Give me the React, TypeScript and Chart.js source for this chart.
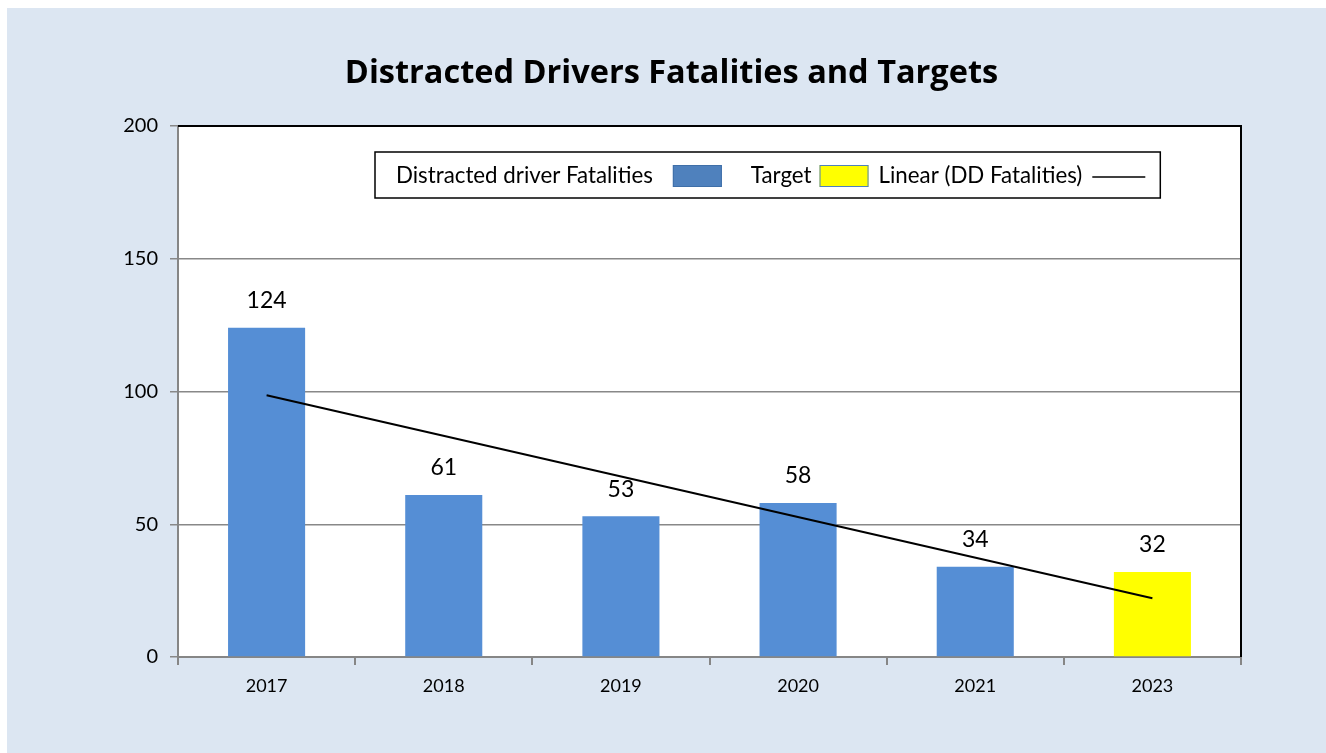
import React, { useEffect, useRef } from "react";
import { Chart, registerables } from "chart.js";

Chart.register(...registerables);

const years = ["2017", "2018", "2019", "2020", "2021", "2023"];
const fatalities = [124, 61, 53, 58, 34, null];
const target = [null, null, null, null, null, 32];
// trend line endpoints (2017 and 2023)
const trend = [98.6, null, null, null, null, 22.1];
const yTicks = [0, 50, 100, 150, 200];

const TITLE = "Distracted Drivers Fatalities and Targets";
const FONT = "Lato, 'Open Sans', sans-serif";
const TITLE_FONT = "'Open Sans', Lato, sans-serif";
const BAR_BLUE = "#558ED5";
const LEGEND_BLUE = "#4F81BD";
const YELLOW = "#FFFF00";

const plotBackground = {
  id: "plotBackground",
  beforeDraw(chart: any) {
    const { ctx, chartArea } = chart;
    ctx.save();
    ctx.fillStyle = "#FFFFFF";
    ctx.fillRect(chartArea.left, chartArea.top, chartArea.right - chartArea.left, chartArea.bottom - chartArea.top);
    ctx.restore();
  },
};

const frameAndLabels = {
  id: "frameAndLabels",
  afterDatasetsDraw(chart: any) {
    const { ctx, chartArea } = chart;
    ctx.save();
    // title centred over the whole panel
    ctx.fillStyle = "#000";
    ctx.font = `bold 32.5px ${TITLE_FONT}`;
    ctx.textAlign = "center";
    ctx.textBaseline = "middle";
    ctx.fillText(TITLE, chart.width / 2 + 5, 66);
    // top and right black border
    ctx.strokeStyle = "#000";
    ctx.lineWidth = 2;
    ctx.beginPath();
    ctx.moveTo(chartArea.left, chartArea.top);
    ctx.lineTo(chartArea.right, chartArea.top);
    ctx.lineTo(chartArea.right, chartArea.bottom);
    ctx.stroke();
    // data labels
    ctx.fillStyle = "#000";
    ctx.font = `23px ${FONT}`;
    ctx.textAlign = "center";
    ctx.textBaseline = "middle";
    [0, 1].forEach((di) => {
      const meta = chart.getDatasetMeta(di);
      const data = chart.data.datasets[di].data;
      meta.data.forEach((el: any, i: number) => {
        const v = data[i];
        if (v === null || v === undefined) return;
        ctx.fillText(String(v), el.x, el.y - 27);
      });
    });
    // legend
    const lx = chartArea.left + 197;
    const ly = chartArea.top + 26;
    const lh = 46;
    ctx.font = `22.3px ${FONT}`;
    ctx.textAlign = "left";
    const items = [
      { label: "Distracted driver Fatalities", kind: "box", color: LEGEND_BLUE, border: "#3F6FA8" },
      { label: "Target", kind: "box", color: YELLOW, border: "#4F81BD" },
      { label: "Linear (DD Fatalities)", kind: "line", color: "#000", border: "#000" },
    ];
    let x = lx + 21;
    const cy = ly + lh / 2 + 1;
    const parts: any[] = [];
    items.forEach((it, idx) => {
      const w = ctx.measureText(it.label).width;
      parts.push({ it, x, w });
      x += w + (idx === 0 ? 20 : idx === 1 ? 8 : 10);
      const sw = it.kind === "box" ? 49 : 53;
      parts[parts.length - 1].sx = x;
      parts[parts.length - 1].sw = sw;
      x += sw + (idx === 0 ? 29 : 10);
    });
    const lw = x - 10 + 15 - lx;
    ctx.fillStyle = "#fff";
    ctx.fillRect(lx, ly, lw, lh);
    ctx.strokeStyle = "#000";
    ctx.lineWidth = 1.5;
    ctx.strokeRect(lx, ly, lw, lh);
    parts.forEach((p) => {
      ctx.fillStyle = "#000";
      ctx.fillText(p.it.label, p.x, cy);
      if (p.it.kind === "box") {
        ctx.fillStyle = p.it.color;
        ctx.fillRect(p.sx, cy - 11, p.sw, 22);
        ctx.strokeStyle = p.it.border;
        ctx.lineWidth = 1;
        ctx.strokeRect(p.sx + 0.5, cy - 10.5, p.sw - 1, 21);
      } else {
        ctx.strokeStyle = "#000";
        ctx.lineWidth = 1.5;
        ctx.beginPath();
        ctx.moveTo(p.sx, cy + 1);
        ctx.lineTo(p.sx + p.sw, cy + 1);
        ctx.stroke();
      }
    });
    ctx.restore();
  },
};

export default function App() {
  const ref = useRef<HTMLCanvasElement | null>(null);
  useEffect(() => {
    if (!ref.current) return;
    const chart = new Chart(ref.current, {
      type: "bar",
      data: {
        labels: years,
        datasets: [
          {
            label: "Distracted driver Fatalities",
            data: fatalities as any,
            backgroundColor: BAR_BLUE,
            barPercentage: 0.435,
            categoryPercentage: 1,
            order: 2,
          },
          {
            label: "Target",
            data: target as any,
            backgroundColor: YELLOW,
            barPercentage: 0.435,
            categoryPercentage: 1,
            order: 2,
          },
          {
            type: "line",
            label: "Linear (DD Fatalities)",
            data: trend as any,
            borderColor: "#000",
            borderWidth: 2,
            pointRadius: 0,
            spanGaps: true,
            order: 1,
          } as any,
        ],
      },
      options: {
        animation: false,
        responsive: true,
        maintainAspectRatio: false,
        layout: { padding: { left: 0, right: 85, top: 118, bottom: 0 } },
        plugins: {
          legend: { display: false },
          tooltip: { enabled: false },
          title: { display: false },
        },
        scales: {
          x: {
            stacked: true,
            offset: true,
            grid: {
              display: true,
              drawOnChartArea: false,
              offset: true,
              tickLength: 8,
              color: "#868686",
              lineWidth: 2,
            },
            border: { display: true, color: "#868686", width: 2 },
            ticks: {
              color: "#000",
              font: { family: FONT, size: 18 },
              padding: 10,
            },
            afterFit(scale: any) {
              scale.height = 96;
            },
          },
          y: {
            min: 0,
            max: 200,
            afterBuildTicks(scale: any) {
              scale.ticks = yTicks.map((v) => ({ value: v }));
            },
            grid: {
              color: "#888888",
              lineWidth: 1.5,
              tickLength: 8,
            },
            border: { display: true, color: "#868686", width: 2 },
            ticks: {
              color: "#000",
              font: { family: FONT, size: 20 },
              padding: 12,
            },
            afterFit(scale: any) {
              scale.width = 171;
            },
          },
        },
      },
      plugins: [plotBackground, frameAndLabels],
    });
    return () => chart.destroy();
  }, []);
  return (
    <div
      style={{
        position: "fixed",
        left: 7,
        top: 8,
        width: 1319,
        height: 745,
        background: "#DCE6F2",
      }}
    >
      <canvas ref={ref} />
    </div>
  );
}
